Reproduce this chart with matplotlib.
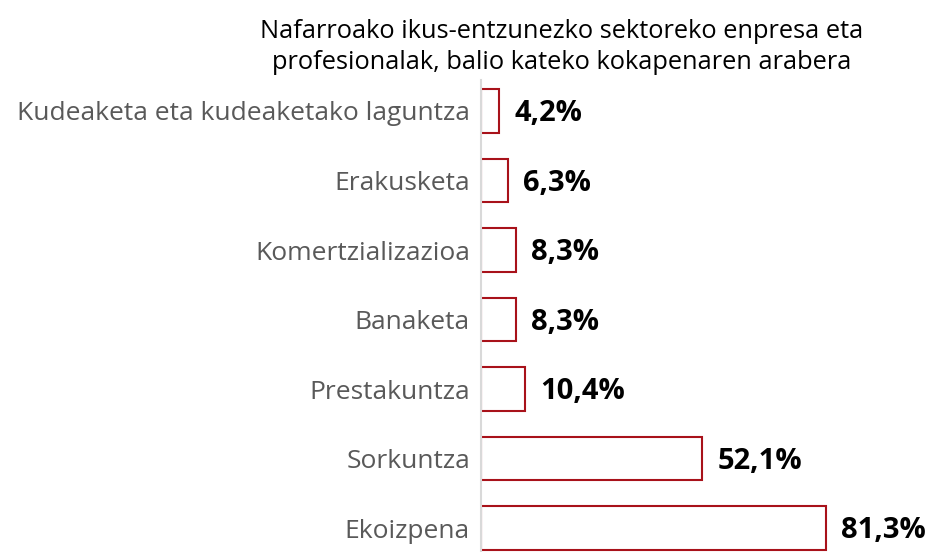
import matplotlib
matplotlib.use("Agg")
import matplotlib.pyplot as plt

categories = ["Ekoizpena", "Sorkuntza", "Prestakuntza", "Banaketa",
              "Komertzializazioa", "Erakusketa", "Kudeaketa eta kudeaketako laguntza"]
values = [81.3, 52.1, 10.4, 8.3, 8.3, 6.3, 4.2]
value_labels = ["81,3%", "52,1%", "10,4%", "8,3%", "8,3%", "6,3%", "4,2%"]
title = "Nafarroako ikus-entzunezko sektoreko enpresa eta\nprofesionalak, balio kateko kokapenaren arabera"

plt.rcParams['font.family'] = ['Open Sans', 'DejaVu Sans']

fig = plt.figure(figsize=(9.3, 5.52), dpi=100)
ax = fig.add_axes([481 / 930, 0, 424 / 930, (552 - 80) / 552])

pos = range(len(categories))
ax.barh(pos, values, height=0.62, color="white", edgecolor="#A8121A", linewidth=1.5)

for p, v, lab in zip(pos, values, value_labels):
    ax.annotate(lab, (v, p), xytext=(11, -2), textcoords="offset points",
                va="center", ha="left", fontsize=21, fontweight="bold",
                color="black", annotation_clip=False)

ax.set_xlim(0, 100)
ax.set_ylim(-0.345, 6.446)
ax.set_yticks(list(pos))
ax.set_yticklabels(categories, fontsize=19, color="#595959")
ax.tick_params(axis="y", length=0, pad=8)
ax.set_xticks([])

for s in ["top", "right", "bottom"]:
    ax.spines[s].set_visible(False)
ax.spines["left"].set_color("#D9D9D9")
ax.spines["left"].set_linewidth(1.5)

fig.text(562 / 930, 1 - 47 / 552, title, ha="center", va="center",
         fontsize=18.3, color="black", linespacing=1.3)

fig.savefig("out.png", dpi=100)
